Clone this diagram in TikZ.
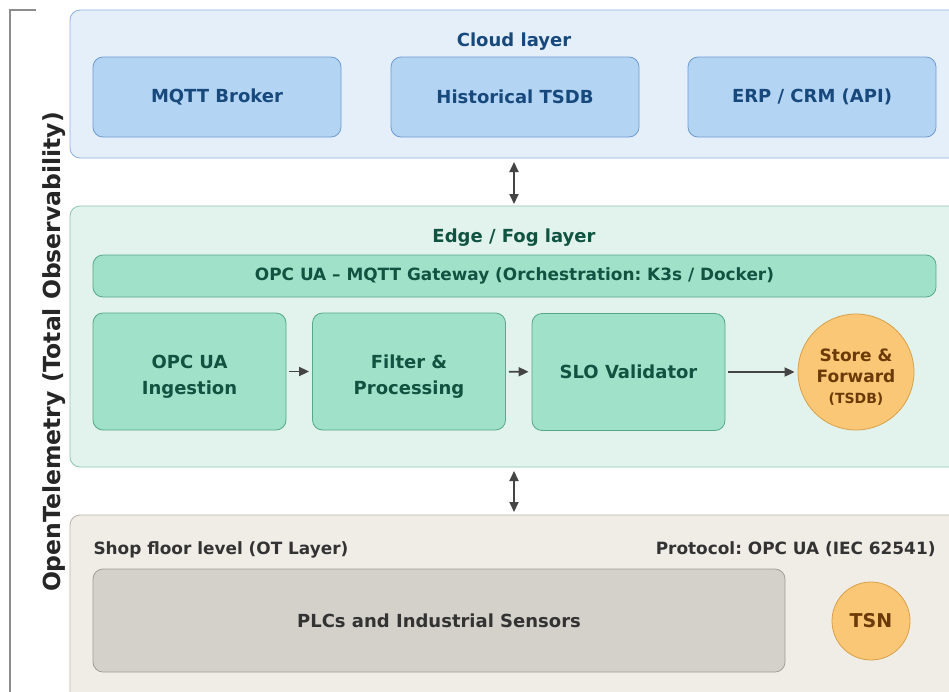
\documentclass[tikz,border=0pt]{standalone}
\usepackage{fontspec}
\setmainfont{DejaVu Sans}
\frenchspacing
\usetikzlibrary{arrows.meta,calc,positioning}
\definecolor{cloudbg}{HTML}{E4EFFA}
\definecolor{cloudln}{HTML}{8DB3DE}
\definecolor{cloudbox}{HTML}{B4D4F3}
\definecolor{cloudboxln}{HTML}{6E9BCF}
\definecolor{cloudtxt}{HTML}{17497D}
\definecolor{edgebg}{HTML}{E1F3EC}
\definecolor{edgeln}{HTML}{8CC6AE}
\definecolor{edgebox}{HTML}{A0E1C9}
\definecolor{edgeboxln}{HTML}{55A889}
\definecolor{edgetxt}{HTML}{0F5340}
\definecolor{shopbg}{HTML}{F0EDE7}
\definecolor{shopln}{HTML}{BAB6AE}
\definecolor{shopbox}{HTML}{D4D1CA}
\definecolor{shopboxln}{HTML}{A19D96}
\definecolor{shoptxt}{HTML}{333333}
\definecolor{orbg}{HTML}{F9C775}
\definecolor{orln}{HTML}{D9A04A}
\definecolor{ortxt}{HTML}{6B3A08}
\definecolor{arrowc}{HTML}{444444}
\tikzset{
  layer/.style={rounded corners=10pt, line width=0.8pt},
  cbox/.style={draw=cloudboxln, fill=cloudbox, rounded corners=10pt, line width=0.8pt, text=cloudtxt, font=\fontsize{18}{22}\selectfont\bfseries},
  ebox/.style={draw=edgeboxln, fill=edgebox, rounded corners=10pt, line width=0.8pt, text=edgetxt, font=\fontsize{18}{26}\selectfont\bfseries, align=center},
  etext/.style={text=edgetxt, font=\fontsize{18}{26}\selectfont\bfseries, align=center},
  rdot/.style={circle, draw=orln, fill=orbg, line width=0.8pt, text=ortxt, align=center},
  flow/.style={-{Triangle[length=10pt,width=9pt]}, draw=arrowc, line width=1.8pt, shorten <=3pt, shorten >=3pt},
  both/.style={{Triangle[length=10pt,width=9pt]}-{Triangle[length=10pt,width=9pt]}, draw=arrowc, line width=1.8pt},
}
\begin{document}
\begin{tikzpicture}[x=1pt,y=-1pt]
\clip (0,0) rectangle (949,691);
\fill[white] (0,0) rectangle (949,691);
% bracket
\draw[gray!90, line width=1.2pt] (36,10) -- (10,10) -- (10,700);
\node[rotate=90, font=\fontsize{23.5}{28}\selectfont\bfseries, text=black!85] (otel) at (54,352) {OpenTelemetry (Total Observability)};
% cloud layer
\draw[layer, draw=cloudln, fill=cloudbg] (70,10) rectangle (965,158);
\node[text=cloudtxt, font=\fontsize{18}{22}\selectfont\bfseries] (cloud) at (514,41.5) {Cloud layer};
\node[cbox, minimum width=248pt, minimum height=80pt] (mqtt) at (217,97) {MQTT Broker};
\node[cbox, minimum width=248pt, minimum height=80pt] (tsdb) at (515,97) {Historical TSDB};
\node[cbox, minimum width=248pt, minimum height=80pt] (erp) at (812,97) {ERP / CRM (API)};
% edge layer
\draw[layer, draw=edgeln, fill=edgebg] (70,206) rectangle (965,467);
\node[text=edgetxt, font=\fontsize{18}{22}\selectfont\bfseries] (edge) at (514,238) {Edge / Fog layer};
\node[ebox, minimum width=843pt, minimum height=42pt, font=\fontsize{16.9}{20}\selectfont\bfseries] (gw) at (514.5,276) {OPC UA -- MQTT Gateway (Orchestration: K3s / Docker)};
\node[ebox, minimum width=193pt, minimum height=117pt] (ingest) at (189.5,371.5) {};
\node[ebox, minimum width=193pt, minimum height=117pt] (filter) at (409,371.5) {};
\node[ebox, minimum width=193pt, minimum height=117pt] (slo) at (628.5,372) {SLO Validator};
\node[etext] (ingestlbl) at ($(ingest.center)+(0,5)$) {OPC UA\\Ingestion};
\node[etext] (filterlbl) at ($(filter.center)+(0,5)$) {Filter \&\\Processing};
\node[rdot, minimum size=116pt] (store) at (856,372) {};
\node[text=ortxt, align=center, font=\fontsize{17}{21}\selectfont\bfseries] (storelbl) at ($(store.center)+(0,5)$) {Store \&\\Forward\\{\fontsize{14}{16}\selectfont(TSDB)}};
\draw[flow] (ingest) -- (filter);
\draw[flow] (filter) -- (slo);
\draw[flow] (slo) -- (store);
% shop floor
\draw[layer, draw=shopln, fill=shopbg] (70,515) rectangle (965,710);
\node[anchor=west, text=shoptxt, font=\fontsize{16.9}{20}\selectfont\bfseries] (shop) at (90,549.5) {Shop floor level (OT Layer)};
\node[anchor=east, text=shoptxt, font=\fontsize{16.9}{20}\selectfont\bfseries] (proto) at (939,549.5) {Protocol: OPC UA (IEC 62541)};
\node[draw=shopboxln, fill=shopbox, rounded corners=10pt, line width=0.8pt, text=shoptxt, font=\fontsize{18}{22}\selectfont\bfseries, minimum width=692pt, minimum height=103pt] (plc) at (439,620.5) {PLCs and Industrial Sensors};
\node[rdot, minimum size=78pt, font=\fontsize{19}{22}\selectfont\bfseries] (tsn) at (871,621) {TSN};
% between layers
\coordinate (c1) at (514,162);
\coordinate (c2) at (514,204);
\coordinate (c3) at (514,471);
\coordinate (c4) at (514,512);
\draw[both] (c1) -- (c2);
\draw[both] (c3) -- (c4);
\end{tikzpicture}
\end{document}
